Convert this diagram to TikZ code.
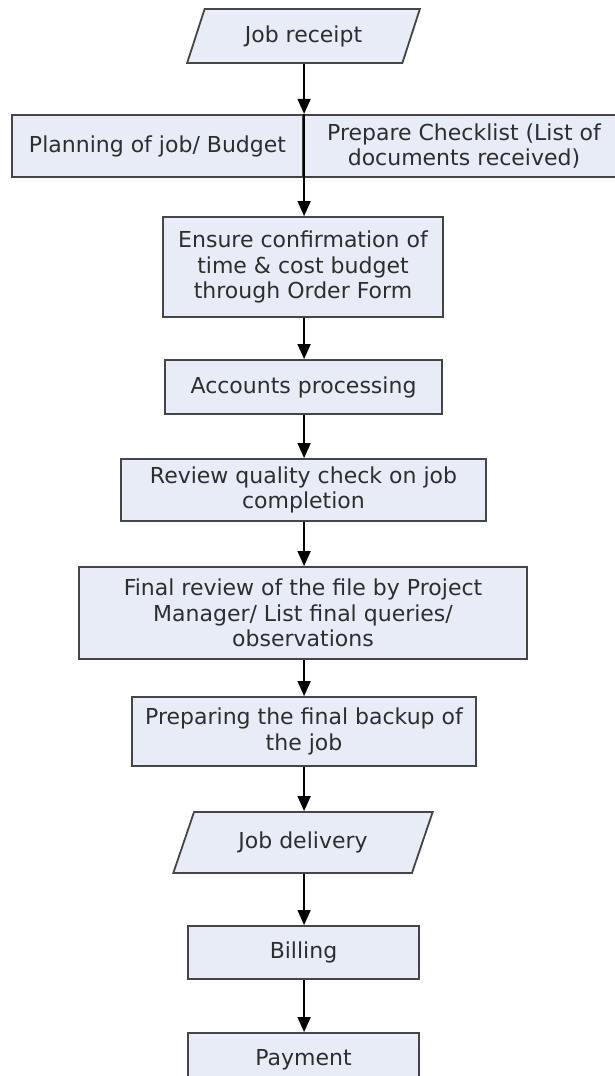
\documentclass[tikz,border=0pt]{standalone}
\usepackage{fontspec}
\setmainfont{DejaVu Sans}
\usetikzlibrary{arrows.meta,shapes.geometric}
\definecolor{boxfill}{HTML}{E7ECF6}
\definecolor{boxline}{HTML}{454545}
\definecolor{txt}{HTML}{2E2E2E}
\begin{document}
\begin{tikzpicture}[x=1pt,y=-1pt,
  every node/.style={font=\fontsize{22}{25.5}\selectfont, text=txt, align=center, inner sep=0pt},
  stepbox/.style={draw=boxline, line width=1.8pt, fill=boxfill, rectangle},
  iobox/.style={draw=boxline, line width=1.8pt, fill=boxfill, trapezium,
     trapezium stretches=true, trapezium left angle=#1, trapezium right angle=180-#1},
  arr/.style={draw=black, line width=1.5pt, -{Triangle[length=15pt,width=13pt]}},
  plain/.style={draw=black, line width=1.5pt}]
\useasboundingbox (0,0) rectangle (614,1076);
\node[iobox=64, minimum width=233pt, minimum height=54pt] (jr) at (303.5,36) {Job receipt};
\node[stepbox, line width=2.2pt, minimum width=291pt, minimum height=62pt] (planL) at (157.5,146) {Planning of job/ Budget};
\node[stepbox, line width=2.2pt, minimum width=322pt, minimum height=62pt] (planR) at (464,146) {Prepare Checklist (List of\\documents received)};
\node[stepbox, minimum width=280pt, minimum height=100pt] (ens) at (303,267) {Ensure confirmation of\\time \& cost budget\\through Order Form};
\node[stepbox, minimum width=277pt, minimum height=54pt] (acc) at (303.5,387) {Accounts processing};
\node[stepbox, minimum width=365pt, minimum height=62pt] (rev) at (303.5,490) {Review quality check on job\\completion};
\node[stepbox, minimum width=448pt, minimum height=92pt] (fin) at (303,613) {Final review of the file by Project\\Manager/ List final queries/\\observations};
\node[stepbox, minimum width=344pt, minimum height=69pt] (prep) at (304,731.5) {Preparing the final backup of\\the job};
\node[iobox=60, minimum width=260pt, minimum height=61pt] (jd) at (303,842.5) {Job delivery};
\node[stepbox, minimum width=231pt, minimum height=53pt] (bill) at (303.5,952.5) {Billing};
\node[stepbox, minimum width=231pt, minimum height=53pt] (pay) at (303.5,1059.5) {Payment};
\coordinate (c) at (planL.north east);
\draw[arr] (c |- jr.south) -- (planL.north east);
\draw[plain] (planL.north east) -- (planL.south east);
\draw[arr] (planL.south east) -- (c |- ens.north);
\draw[arr] (c |- ens.south) -- (c |- acc.north);
\draw[arr] (c |- acc.south) -- (c |- rev.north);
\draw[arr] (c |- rev.south) -- (c |- fin.north);
\draw[arr] (c |- fin.south) -- (c |- prep.north);
\draw[arr] (c |- prep.south) -- (c |- jd.north);
\draw[arr] (c |- jd.south) -- (c |- bill.north);
\draw[arr] (c |- bill.south) -- (c |- pay.north);
\end{tikzpicture}
\end{document}
